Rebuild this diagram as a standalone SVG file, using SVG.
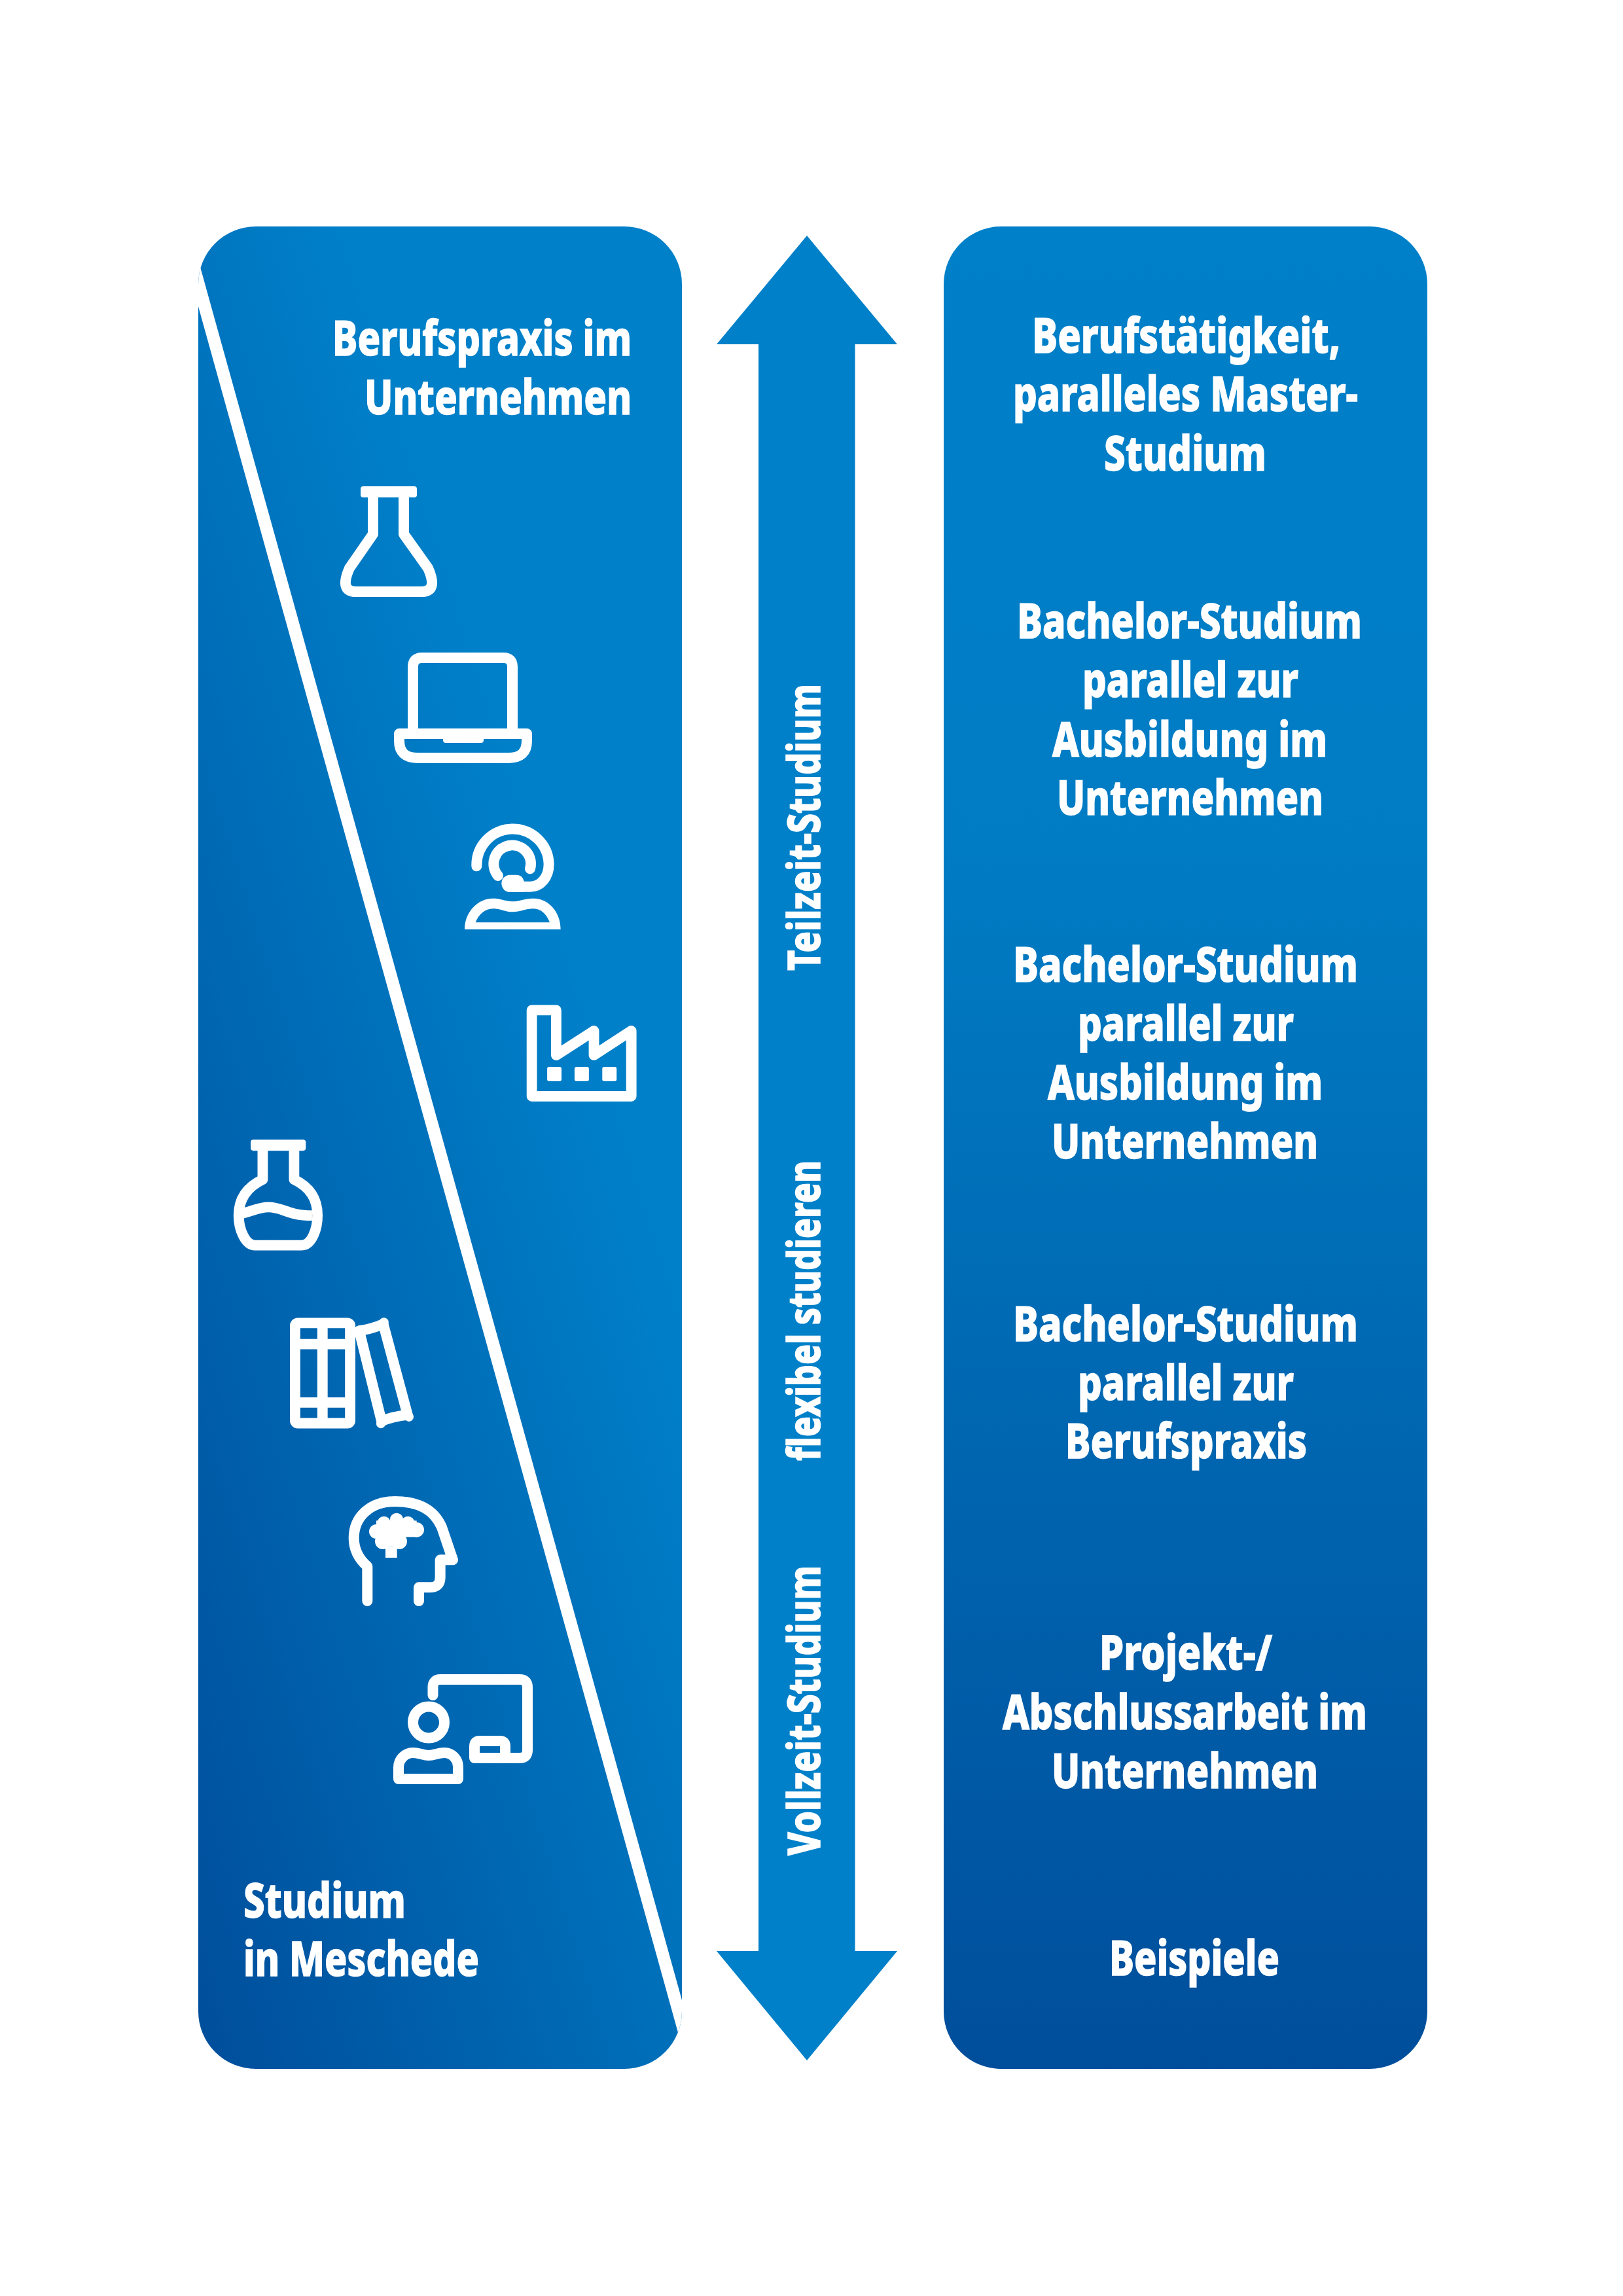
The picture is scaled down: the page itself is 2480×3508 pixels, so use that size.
<svg xmlns="http://www.w3.org/2000/svg" width="2480" height="3508" viewBox="0 0 2480 3508">
<style>
text{font-family:"Noto Sans","Open Sans","Liberation Sans",sans-serif;font-weight:800;font-size:74px;fill:#fff;stroke:#fff;stroke-width:1.5}
.v{font-size:68px}
.s{fill:none;stroke:#fff;stroke-width:16;stroke-linejoin:round;stroke-linecap:round}
.z{fill:none;stroke:#fff;stroke-width:31;stroke-linejoin:round;stroke-linecap:butt}
.f{fill:#fff}
</style>
<defs>
<linearGradient id="gl" gradientUnits="userSpaceOnUse" x1="320" y1="3100" x2="1289" y2="2796"><stop offset="0" stop-color="#004f9c"/><stop offset="1" stop-color="#0080c9"/></linearGradient>
<linearGradient id="gr" gradientUnits="userSpaceOnUse" x1="0" y1="346" x2="0" y2="3161"><stop offset="0" stop-color="#0080c9"/><stop offset="0.34" stop-color="#007cc4"/><stop offset="1" stop-color="#004e9b"/></linearGradient>
<clipPath id="cl"><rect x="303" y="346" width="739" height="2815" rx="88"/></clipPath>
</defs>
<rect width="2480" height="3508" fill="#fff"/>
<g id="panel-left">
<rect x="303" y="346" width="739" height="2815" rx="88" fill="url(#gl)"/>
<path d="M290,386 L1053,3131" stroke="#fff" stroke-width="19" clip-path="url(#cl)" fill="none"/>
<text x="508" y="543" textLength="457" lengthAdjust="spacingAndGlyphs">Berufspraxis im</text>
<text x="557" y="633" textLength="408" lengthAdjust="spacingAndGlyphs">Unternehmen</text>
<text x="372" y="2930" textLength="248" lengthAdjust="spacingAndGlyphs">Studium</text>
<text x="372" y="3019" textLength="360" lengthAdjust="spacingAndGlyphs">in Meschede</text>
</g>
<g id="icon-flask-1">
<rect x="551" y="743" width="86" height="17" rx="4" class="f"/>
<path class="s" stroke-linecap="butt" d="M570,755 V816 L534,868 Q518,904 544,904 H644 Q670,904 654,868 L617,816 V755"/>
</g>
<g id="icon-laptop">
<path class="s" d="M631,1113 V1019 Q631,1005 645,1005 H769 Q783,1005 783,1019 V1113"/>
<path class="s" d="M610,1121 H805 V1132 Q805,1158 777,1158 H638 Q610,1158 610,1132 Z"/>
<rect x="677" y="1125" width="62" height="10" rx="4" class="f"/>
</g>
<g id="icon-headset" transform="translate(690,1240) scale(.3333)">
<path d="M115,250 A165.500,165.500 0 0 1 446,240 C446,300 410,344 360,344 H260" fill="none" stroke="#fff" stroke-width="48" stroke-linecap="round" stroke-linejoin="round"/>
<path d="M213,294 A85,85 0 1 1 360,262" fill="none" stroke="#fff" stroke-width="48" stroke-linecap="round"/>
<path d="M268,290 H295 Q325,290 333,320 V368 H268 A39,39 0 0 1 268,290 Z" class="f"/>
<path class="f" fill-rule="evenodd" d="M60,540 C60,460 120,398 190,398 C225,398 250,412 280,412 C310,412 335,398 375,398 C445,398 500,460 500,540 Z M110,508 H450 C435,470 410,445 375,445 C340,445 315,460 280,460 C245,460 225,445 190,445 C155,445 125,470 110,508 Z"/>
</g>
<g id="icon-factory" transform="translate(281,1500) scale(.5102)">
<path class="z" d="M1042,85 H1115 V220 L1228,147 V220 L1340,147 V343 H1042 Z"/>
<rect x="1088" y="255" width="43" height="43" rx="6" class="f"/>
<rect x="1170" y="255" width="43" height="43" rx="6" class="f"/>
<rect x="1253" y="255" width="43" height="43" rx="6" class="f"/>
</g>
<g id="icon-flask-2" transform="translate(280,1500) scale(.5102)">
<rect x="202" y="473" width="165" height="33" rx="8" class="f"/>
<path class="z" d="M238,500 V592 C190,615 166,650 166,700 C166,740 185,789 215,789 H355 C385,789 402,740 402,700 C402,650 380,615 332,592 V500"/>
<path class="z" d="M170,695 C200,690 225,675 255,675 C300,675 310,700 386,700"/>
</g>
<g id="icon-books" transform="translate(280,1500) scale(.5102)">
<rect x="335" y="1022" width="165" height="300" rx="8" class="z"/>
<path class="z" d="M417,1022 V1322 M335,1085 H500 M335,1260 H500"/>
<path class="z" d="M527,1045 C550,1042 575,1035 599,1025 L672,1297 C645,1300 618,1306 594,1316 Z"/>
<circle cx="601" cy="1020" r="14" class="f"/><circle cx="592" cy="1323" r="14" class="f"/><circle cx="676" cy="1303" r="14" class="f"/>
</g>
<g id="icon-head" transform="translate(520,2280) scale(.3333)">
<path d="M124,498 V340 C90,310 62,270 62,210 C62,110 140,42 250,42 C360,42 430,80 465,160 L516,310 H458 V390 Q458,436 410,436 H360 V498" fill="none" stroke="#fff" stroke-width="48" stroke-linecap="round" stroke-linejoin="round"/>
<g class="f"><circle cx="165" cy="180" r="33"/><circle cx="200" cy="140" r="30"/><circle cx="258" cy="125" r="30"/><circle cx="310" cy="140" r="30"/><circle cx="350" cy="172" r="34"/><circle cx="195" cy="225" r="36"/><circle cx="270" cy="225" r="36"/><rect x="165" y="130" width="185" height="75"/><rect x="190" y="190" width="85" height="60"/><rect x="207" y="250" width="53" height="50"/></g>
</g>
<g id="icon-teacher">
<path class="s" stroke-linecap="butt" d="M661.500,2590 V2578 Q661.500,2566 673,2566 H794 Q806,2566 806,2578 V2674 Q806,2686 794,2686 H725 V2668 Q725,2660 733,2660 H764 Q772,2660 772,2668 V2686"/>
<circle cx="655" cy="2631.500" r="24" class="s"/>
<path class="s" d="M609,2705 V2700 C609,2688 619,2678 631,2678 C641,2678 646,2682 655,2682 C664,2682 669,2678 679,2678 C691,2678 700,2688 700,2700 V2718 H609 Z"/>
</g>
<g id="connectors">
<path id="arrow" d="M1233,360 L1371,526 H1306.500 V2981 H1371 L1233,3148 L1095,2981 H1159 V526 H1095 Z" fill="#0080c9"/>
<text class="v" transform="rotate(-90 1253 1483)" x="1253" y="1483" textLength="438" lengthAdjust="spacingAndGlyphs">Teilzeit-Studium</text>
<text class="v" transform="rotate(-90 1253 2232)" x="1253" y="2232" textLength="459" lengthAdjust="spacingAndGlyphs">flexibel studieren</text>
<text class="v" transform="rotate(-90 1253 2835)" x="1253" y="2835" textLength="443" lengthAdjust="spacingAndGlyphs">Vollzeit-Studium</text>
</g>
<g id="panel-right">
<rect x="1442" y="346" width="739" height="2815" rx="88" fill="url(#gr)"/>
</g>
<g id="label-1">
<text x="1577" y="539" textLength="471" lengthAdjust="spacingAndGlyphs">Berufstätigkeit,</text>
<text x="1548" y="628" textLength="527" lengthAdjust="spacingAndGlyphs">paralleles Master-</text>
<text x="1687" y="719" textLength="248" lengthAdjust="spacingAndGlyphs">Studium</text>
</g>
<g id="label-2">
<text x="1554" y="975" textLength="527" lengthAdjust="spacingAndGlyphs">Bachelor-Studium</text>
<text x="1654" y="1065" textLength="330" lengthAdjust="spacingAndGlyphs">parallel zur</text>
<text x="1608" y="1156" textLength="420" lengthAdjust="spacingAndGlyphs">Ausbildung im</text>
<text x="1615" y="1245" textLength="407" lengthAdjust="spacingAndGlyphs">Unternehmen</text>
</g>
<g id="label-3">
<text x="1548" y="1500" textLength="527" lengthAdjust="spacingAndGlyphs">Bachelor-Studium</text>
<text x="1647" y="1590" textLength="330" lengthAdjust="spacingAndGlyphs">parallel zur</text>
<text x="1601" y="1680" textLength="420" lengthAdjust="spacingAndGlyphs">Ausbildung im</text>
<text x="1607" y="1770" textLength="407" lengthAdjust="spacingAndGlyphs">Unternehmen</text>
</g>
<g id="label-4">
<text x="1548" y="2049" textLength="527" lengthAdjust="spacingAndGlyphs">Bachelor-Studium</text>
<text x="1647" y="2139" textLength="330" lengthAdjust="spacingAndGlyphs">parallel zur</text>
<text x="1628" y="2228" textLength="369" lengthAdjust="spacingAndGlyphs">Berufspraxis</text>
</g>
<g id="label-5">
<text x="1680" y="2551" textLength="264" lengthAdjust="spacingAndGlyphs">Projekt-/</text>
<text x="1532" y="2642" textLength="557" lengthAdjust="spacingAndGlyphs">Abschlussarbeit im</text>
<text x="1607" y="2732" textLength="407" lengthAdjust="spacingAndGlyphs">Unternehmen</text>
</g>
<g id="label-6">
<text x="1695" y="3018" textLength="260" lengthAdjust="spacingAndGlyphs">Beispiele</text>
</g>
</svg>
